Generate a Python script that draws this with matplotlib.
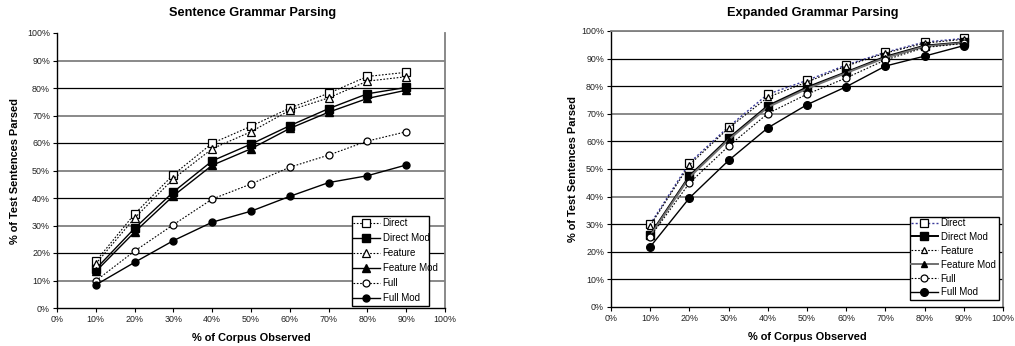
import matplotlib
matplotlib.use("Agg")
import matplotlib.pyplot as plt
from matplotlib.ticker import FixedLocator
from matplotlib.patches import Rectangle

plt.rcParams['font.family'] = ['Liberation Sans', 'DejaVu Sans']

corpus = [10, 20, 30, 40, 50, 60, 70, 80, 90]
series_names = ["Direct", "Direct Mod", "Feature", "Feature Mod", "Full", "Full Mod"]

sentence_direct = [17.0, 34.2, 48.5, 59.9, 66.1, 72.7, 78.1, 84.2, 85.7]
sentence_direct_mod = [14.2, 29.0, 42.2, 53.5, 59.6, 66.3, 72.5, 77.9, 80.2]
sentence_feature = [16.1, 32.7, 47.0, 57.9, 64.1, 71.9, 76.4, 82.5, 84.1]
sentence_feature_mod = [13.3, 27.6, 40.8, 51.9, 57.9, 65.3, 71.2, 76.2, 79.2]
sentence_full = [9.9, 20.7, 30.3, 39.6, 45.1, 51.2, 55.6, 60.7, 64.1]
sentence_full_mod = [8.4, 16.6, 24.5, 31.2, 35.2, 40.6, 45.6, 48.1, 52.0]

expanded_direct = [30.0, 52.2, 65.3, 77.1, 82.1, 87.7, 92.3, 96.0, 97.3]
expanded_direct_mod = [26.2, 47.5, 61.1, 72.9, 79.6, 85.1, 90.7, 94.7, 95.9]
expanded_feature = [29.5, 51.5, 64.8, 76.0, 81.5, 87.3, 92.0, 95.6, 97.0]
expanded_feature_mod = [25.8, 47.0, 60.6, 72.4, 79.1, 84.8, 90.3, 94.4, 95.7]
expanded_full = [25.4, 44.9, 58.3, 70.1, 77.1, 83.0, 89.5, 94.0, 95.5]
expanded_full_mod = [21.8, 39.5, 53.1, 64.9, 73.3, 79.8, 87.3, 90.9, 94.7]

titles = ["Sentence Grammar Parsing", "Expanded Grammar Parsing"]
xlabel = "% of Corpus Observed"
ylabel = "% of Test Sentences Parsed"
tick_values = [0, 10, 20, 30, 40, 50, 60, 70, 80, 90, 100]
tick_labels = [f"{v}%" for v in tick_values]

W, H = 1015, 346
fig = plt.figure(figsize=(W / 100, H / 100), dpi=100)


def px_axes(x0, x1, y0, y1):
    return fig.add_axes([x0 / W, 1 - y1 / H, (x1 - x0) / W, (y1 - y0) / H])


ax1 = px_axes(57, 445, 33, 308)
ax2 = px_axes(611, 1003, 31, 307)

data_sets = [
    [sentence_direct, sentence_direct_mod, sentence_feature, sentence_feature_mod, sentence_full, sentence_full_mod],
    [expanded_direct, expanded_direct_mod, expanded_feature, expanded_feature_mod, expanded_full, expanded_full_mod],
]

dot = (0, (1.5, 1.5))
styles_left = [
    dict(ls=dot, color='black', marker='s', mfc='white', mec='black', ms=5.2, mew=0.9, lw=0.8),
    dict(ls='-', color='black', marker='s', mfc='black', mec='black', ms=5.2, lw=1.0),
    dict(ls=dot, color='black', marker='^', mfc='white', mec='black', ms=5.2, mew=0.9, lw=0.8),
    dict(ls='-', color='black', marker='^', mfc='black', mec='black', ms=5.2, lw=1.0),
    dict(ls=dot, color='black', marker='o', mfc='white', mec='black', ms=5.0, mew=0.9, lw=0.8),
    dict(ls='-', color='black', marker='o', mfc='black', mec='black', ms=5.0, lw=1.0),
]
styles_right = [
    dict(ls=dot, color='#3a3a9a', marker='s', mfc='white', mec='black', ms=5.2, mew=0.9, lw=1.0),
    dict(ls='-', color='black', marker='s', mfc='black', mec='black', ms=5.5, lw=1.4),
    dict(ls=dot, color='black', marker='^', mfc='white', mec='black', ms=4.5, mew=0.9, lw=0.8),
    dict(ls='-', color='#707070', marker='^', mfc='black', mec='black', ms=4.5, lw=1.4),
    dict(ls=dot, color='black', marker='o', mfc='white', mec='black', ms=5.0, mew=0.9, lw=0.8),
    dict(ls='-', color='black', marker='o', mfc='black', mec='black', ms=5.5, lw=1.0),
]

grid_left = {10: ('#808080', 1.3), 30: ('#808080', 1.3), 50: ('#808080', 1.3), 70: ('#808080', 1.3), 90: ('#808080', 1.3)}
grid_right = {40: ('#808080', 1.3), 70: ('#808080', 1.3), 100: ('#808080', 1.3)}

# layout in figure pixels: title centre, ylabel x centre, xlabel y centre, legend box
layout = [
    dict(title_xy=(253, 13), ylab_x=15, xlab_y=338, box=(352, 216, 429, 306), leg_xy=(353, 218), spacing=0.52),
    dict(title_xy=(813, 13), ylab_x=573, xlab_y=337, box=(910, 217, 999, 300), leg_xy=(911, 218), spacing=0.40),
]

for ax, title, data, styles, gspec, lay in zip([ax1, ax2], titles, data_sets, [styles_left, styles_right],
                                               [grid_left, grid_right], layout):
    for v in tick_values[1:]:
        c, lw = gspec.get(v, ('black', 0.9))
        if v == 100 and ax is ax1:
            continue
        ax.axhline(v, color=c, lw=lw, zorder=0)
    for name, vals, st in zip(series_names, data, styles):
        ax.plot(corpus, vals, label=name, zorder=3, **st)
    ax.set_xlim(0, 100)
    ax.set_ylim(0, 100)
    ax.xaxis.set_major_locator(FixedLocator(tick_values))
    ax.yaxis.set_major_locator(FixedLocator(tick_values))
    ax.set_xticklabels(tick_labels)
    ax.set_yticklabels(tick_labels)
    ax.tick_params(axis='both', labelsize=6.4, length=3, width=0.8, pad=2, colors='black', labelcolor='#222222')
    ax.spines['top'].set_visible(ax is ax2)
    ax.spines['top'].set_color('#808080')
    ax.spines['top'].set_linewidth(1.3)
    ax.spines['right'].set_color('#808080')
    ax.spines['right'].set_linewidth(1.3)
    ax.spines['left'].set_linewidth(1.0)
    ax.spines['bottom'].set_linewidth(1.0)

    fig.text(lay['title_xy'][0] / W, 1 - lay['title_xy'][1] / H, title, fontsize=9.2, fontweight='bold',
             ha='center', va='center')
    ax.set_xlabel(xlabel, fontsize=7.9, fontweight='bold')
    ax.set_ylabel(ylabel, fontsize=7.9, fontweight='bold')
    pos = ax.get_position()
    ax.xaxis.label.set_va('center')
    ax.yaxis.label.set_va('center')
    ax.xaxis.set_label_coords(0.5, ((1 - lay['xlab_y'] / H) - pos.y0) / pos.height)
    ax.yaxis.set_label_coords((lay['ylab_x'] / W - pos.x0) / pos.width, 0.5)

    x0, y0, x1, y1 = lay['box']
    ax.add_patch(Rectangle((x0 / W, 1 - y1 / H), (x1 - x0) / W, (y1 - y0) / H, transform=fig.transFigure,
                           facecolor='white', edgecolor='black', lw=1.0, zorder=4, clip_on=False))
    lg = ax.legend(loc='upper left', bbox_to_anchor=(lay['leg_xy'][0] / W, 1 - lay['leg_xy'][1] / H),
                   bbox_transform=fig.transFigure, fontsize=7, frameon=False,
                   handlelength=2.75, handletextpad=0.3, labelspacing=lay['spacing'], borderpad=0.0,
                   borderaxespad=0.0)
    lg.set_zorder(5)

fig.savefig("out.png", dpi=100)
